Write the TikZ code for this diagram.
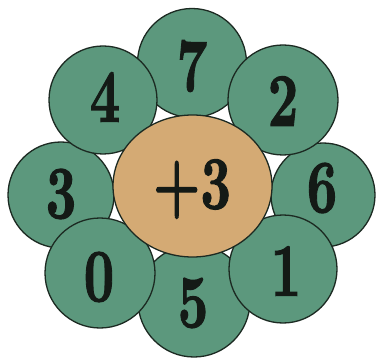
\documentclass[tikz,border=0pt]{standalone}
\usepackage{fontspec}
\usepackage{graphicx}
\newfontfamily\heavy{lmroman10-bold.otf}[FakeBold=1.6]
\definecolor{petal}{HTML}{5C987D}
\definecolor{heart}{HTML}{D4AA74}
\definecolor{rim}{HTML}{1C2A22}
\definecolor{ink}{HTML}{141A16}
\newcommand{\dgt}[1]{\scalebox{1}[1.42]{#1}}
\tikzset{
  petalc/.style={circle, draw=rim, line width=1.3pt, fill=petal, inner sep=0pt, minimum size=#1},
  digit/.style={inner sep=0pt, text=ink, font=\fontsize{53}{53}\selectfont\heavy},
}
\begin{document}
\begin{tikzpicture}[x=1pt,y=-1pt]
\useasboundingbox (0,0) rectangle (380,358);
\fill[white] (0,0) rectangle (380,358);
% back petals
\node[petalc=109pt] (c7) at (192,63) {};
\node[petalc=106pt] (c3) at (61,195) {};
\node[petalc=104pt] (c6) at (323,195) {};
\node[petalc=112pt] (c5) at (194,301) {};
% front petals
\node[petalc=108pt] (c4) at (103,100) {};
\node[petalc=110pt] (c2) at (283,100) {};
\node[petalc=110pt] (c0) at (100,273) {};
\node[petalc=108pt] (c1) at (283,269) {};
% centre
\draw[rim, line width=1.3pt, fill=heart] (192.5,186) ellipse [x radius=79.5, y radius=71];
\node[coordinate] (ctr) at (192.5,186) {};
% digits
\node[digit] (d7) at (192,66) {\dgt{7}};
\node[digit] (d4) at (105,97) {\dgt{4}};
\node[digit] (d2) at (283,101) {\dgt{2}};
\node[digit] (d3) at (61,194) {\dgt{3}};
\node[digit] (d6) at (322,188) {\dgt{6}};
\node[digit] (d0) at (99,277) {\dgt{0}};
\node[digit] (d5) at (193,303) {\dgt{5}};
\node[digit] (d1) at (286,271) {\dgt{1}};
\node[digit] (dc) at (192,189) {\dgt{+3}};
\end{tikzpicture}
\end{document}
